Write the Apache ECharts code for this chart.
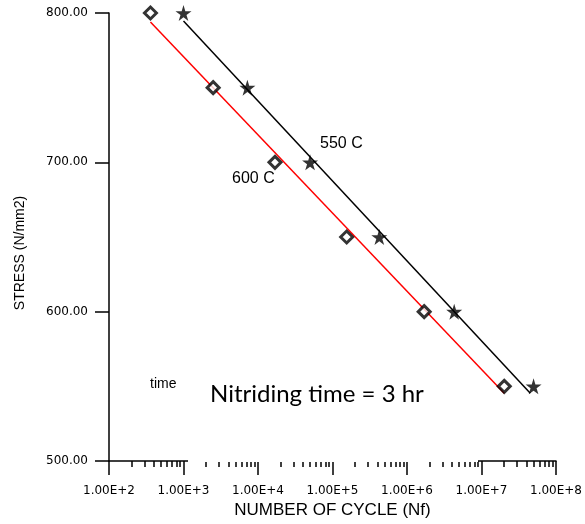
<!DOCTYPE html>
<html>
<head>
<meta charset="utf-8">
<script src="https://cdn.jsdelivr.net/npm/echarts@6/dist/echarts.min.js"></script>
<style>
  html, body { margin: 0; padding: 0; background: #fff; }
  #main { width: 585px; height: 524px; }
</style>
</head>
<body>
<div id="main"></div>
<script>
// stress levels (N/mm2) and cycles to failure
var stress = [800, 750, 700, 650, 600, 550];
var cycles600 = [360, 2500, 16900, 155000, 1700000, 20200000];
var cycles550 = [1000, 7200, 50000, 425000, 4300000, 50000000];

// fitted lines, end points [cycles, stress]
var fit600 = [[360, 794], [20200000, 545.3]];
var fit550 = [[1000, 794.6], [45200000, 545.3]];

// axis ticks: decades 1e2..1e8, minor ticks at 2..9 x 10^n
var decades = [2, 3, 4, 5, 6, 7, 8];
var minorFactors = [2, 3, 4, 5, 6, 7, 8, 9];
var xMinorTicks = [];
decades.slice(0, -1).forEach(function (e) {
    minorFactors.forEach(function (k) {
        xMinorTicks.push(e + Math.log(k) / Math.LN10);   // exponent of k * 10^e
    });
});

var starPath = 'path://M50,0 L61,35 L98,35 L68,57 L79,91 L50,70 L21,91 L32,57 L2,35 L39,35 Z';

function pairs(xs, ys) {
    return xs.map(function (x, i) { return [x, ys[i]]; });
}

var myChart = echarts.init(document.getElementById('main'));
var option = {
    animation: false,
    backgroundColor: '#fff',
    grid: { left: 109, right: 29, top: 13, bottom: 63 },
    xAxis: [
        {
            type: 'log',
            logBase: 10,
            min: Math.pow(10, decades[0]),
            max: Math.pow(10, decades[decades.length - 1]),
            interval: 1,
            name: 'NUMBER OF CYCLE (Nf)',
            nameLocation: 'middle',
            nameGap: 40,
            nameTextStyle: { fontFamily: 'Liberation Sans', fontSize: 17, color: '#000' },
            axisLine: { show: true, lineStyle: { color: '#000', width: 1.5 } },
            axisTick: { show: true, inside: false, length: 14, lineStyle: { color: '#000', width: 1.5 } },
            axisLabel: {
                margin: 24,
                fontFamily: 'DejaVu Sans',
                fontSize: 12,
                color: '#000',
                formatter: function (v) {
                    return '1.00E+' + Math.round(Math.log(v) / Math.LN10);
                }
            },
            splitLine: { show: false }
        },
        {
            // minor ticks only, same range in exponent space
            type: 'value',
            min: decades[0],
            max: decades[decades.length - 1],
            position: 'bottom',
            axisLine: { show: false },
            axisTick: { show: true, inside: false, length: 6, customValues: xMinorTicks, lineStyle: { color: '#000', width: 1.5 } },
            axisLabel: { show: false },
            splitLine: { show: false }
        }
    ],
    yAxis: {
        type: 'value',
        min: 500,
        max: 800,
        interval: 100,
        axisLine: { show: true, lineStyle: { color: '#000', width: 1.5 } },
        axisTick: { show: true, inside: false, length: 14, lineStyle: { color: '#000', width: 1.5 } },
        axisLabel: {
            margin: 21,
            fontFamily: 'DejaVu Sans',
            fontSize: 12,
            color: '#000',
            formatter: function (v) { return v.toFixed(2); }
        },
        splitLine: { show: false }
    },
    graphic: [
        // white text box that hides part of the x axis line
        { type: 'rect', z: 50, shape: { x: 188, y: 372, width: 290, height: 90 }, style: { fill: '#fff' } },
        { type: 'text', z: 60, left: 210, top: 382, style: { text: 'Nitriding time = 3 hr', font: '24px Lato', fill: '#000' } },
        { type: 'text', z: 60, left: 150, top: 377, style: { text: 'time', font: '14px "Liberation Sans"', fill: '#000' } },
        { type: 'text', z: 60, left: 320, top: 136, style: { text: '550 C', font: '16px "Liberation Sans"', fill: '#000' } },
        { type: 'text', z: 60, left: 232, top: 171, style: { text: '600 C', font: '16px "Liberation Sans"', fill: '#000' } },
        {
            type: 'text', z: 60, x: 20, y: 253, rotation: Math.PI / 2,
            style: { text: 'STRESS (N/mm2)', font: '14px "Liberation Sans"', fill: '#000', align: 'center', verticalAlign: 'middle' }
        }
    ],
    series: [
        {
            name: 'fit 600',
            type: 'line',
            data: fit600,
            symbol: 'none',
            lineStyle: { color: '#ff0000', width: 1.5 },
            z: 2
        },
        {
            name: 'fit 550',
            type: 'line',
            data: fit550,
            symbol: 'none',
            lineStyle: { color: '#000', width: 1.5 },
            z: 2
        },
        {
            name: '600 C',
            type: 'scatter',
            data: pairs(cycles600, stress),
            symbol: 'diamond',
            symbolSize: 12,
            itemStyle: { color: '#fff', borderColor: '#000', borderWidth: 3 },
            z: 3
        },
        {
            name: '550 C',
            type: 'scatter',
            data: pairs(cycles550, stress),
            symbol: starPath,
            symbolSize: 16,
            itemStyle: { color: '#000' },
            z: 3
        }
    ]
};
myChart.setOption(option, true);
</script>
</body>
</html>
